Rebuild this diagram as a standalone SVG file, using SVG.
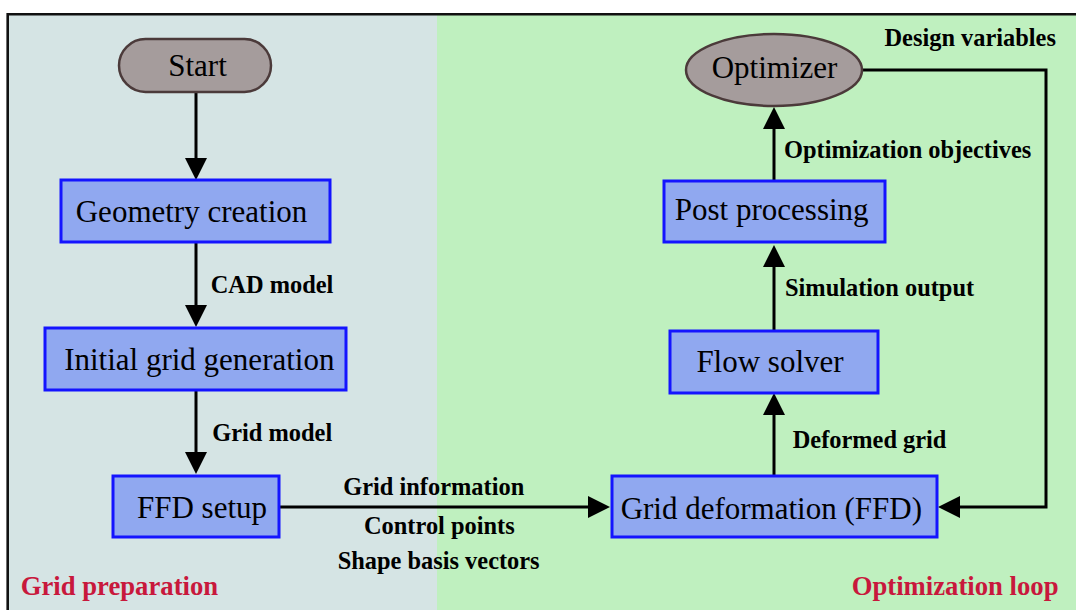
<svg xmlns="http://www.w3.org/2000/svg" width="1076" height="610" viewBox="0 0 1076 610">
  <style>
    .node rect.box { fill: #90a8f0; stroke: #1414ff; stroke-width: 3; }
    .term { fill: #a59c9c; stroke: #4b3a3a; stroke-width: 2.5; }
    .ntext { font-family: "Liberation Serif", "Times New Roman", serif; font-size: 31px; fill: #000; }
    .lbl { font-family: "Liberation Serif", "Times New Roman", serif; font-size: 24.4px; font-weight: bold; fill: #000; }
    .region { font-family: "Liberation Serif", "Times New Roman", serif; font-size: 26.7px; font-weight: bold; fill: #c8183c; }
    .conn { fill: none; stroke: #000; stroke-width: 3; }
  </style>
  <defs>
    <marker id="arrow" markerUnits="userSpaceOnUse" markerWidth="23" markerHeight="23" refX="0" refY="11" orient="auto" overflow="visible">
      <path d="M0,0 L22,11 L0,22 Z" fill="#000"/>
    </marker>
  </defs>

  <!-- page background -->
  <rect x="0" y="0" width="1076" height="610" fill="#ffffff"/>
  <!-- two working areas -->
  <rect x="8" y="14" width="429" height="596" fill="#d5e4e4"/>
  <rect x="437" y="14" width="639" height="596" fill="#bff0bf"/>
  <!-- frame -->
  <path d="M7.7,610 V14.2 H1076" fill="none" stroke="#111" stroke-width="2.6"/>

  <!-- area titles -->
  <text class="region" x="20.7" y="595">Grid preparation</text>
  <text class="region" x="851.7" y="595">Optimization loop</text>

  <!-- connectors -->
  <g id="connectors">
    <path class="conn" d="M196,92 V158" marker-end="url(#arrow)"/>
    <path class="conn" d="M196,242 V305" marker-end="url(#arrow)"/>
    <path class="conn" d="M196,390 V452" marker-end="url(#arrow)"/>
    <path class="conn" d="M279,507 H588" marker-end="url(#arrow)"/>
    <path class="conn" d="M774,476 V415" marker-end="url(#arrow)"/>
    <path class="conn" d="M774,331 V267" marker-end="url(#arrow)"/>
    <path class="conn" d="M774,181 V129" marker-end="url(#arrow)"/>
    <path class="conn" d="M862,70 H1046 V507 H960" marker-end="url(#arrow)"/>

    <text class="lbl" x="210.7" y="293">CAD model</text>
    <text class="lbl" x="212.3" y="441">Grid model</text>
    <text class="lbl" x="343.3" y="494.5">Grid information</text>
    <text class="lbl" x="364" y="533.5">Control points</text>
    <text class="lbl" x="337.7" y="568.5">Shape basis vectors</text>
    <text class="lbl" x="792.7" y="447.7">Deformed grid</text>
    <text class="lbl" x="785" y="296">Simulation output</text>
    <text class="lbl" x="784" y="158">Optimization objectives</text>
    <text class="lbl" x="884.5" y="46">Design variables</text>
  </g>

  <!-- nodes -->
  <g id="start" class="node">
    <rect class="term" x="119" y="39" width="152" height="53" rx="26.5" ry="26.5"/>
    <text class="ntext" x="197.5" y="75.7" text-anchor="middle">Start</text>
  </g>
  <g id="geometry" class="node">
    <rect class="box" x="61" y="180" width="269" height="62"/>
    <text class="ntext" x="191.5" y="222" text-anchor="middle">Geometry creation</text>
  </g>
  <g id="initial-grid" class="node">
    <rect class="box" x="45" y="328" width="301" height="62"/>
    <text class="ntext" x="199.3" y="370" text-anchor="middle">Initial grid generation</text>
  </g>
  <g id="ffd-setup" class="node">
    <rect class="box" x="113" y="476" width="166" height="61"/>
    <text class="ntext" x="202" y="517.7" text-anchor="middle">FFD setup</text>
  </g>
  <g id="grid-deformation" class="node">
    <rect class="box" x="612" y="476" width="325" height="61"/>
    <text class="ntext" x="771.3" y="519" text-anchor="middle">Grid deformation (FFD)</text>
  </g>
  <g id="flow-solver" class="node">
    <rect class="box" x="670" y="331" width="208" height="62"/>
    <text class="ntext" x="770" y="372.3" text-anchor="middle">Flow solver</text>
  </g>
  <g id="post-processing" class="node">
    <rect class="box" x="664" y="181" width="221" height="61"/>
    <text class="ntext" x="771.7" y="220" text-anchor="middle">Post processing</text>
  </g>
  <g id="optimizer" class="node">
    <ellipse class="term" cx="774" cy="70" rx="88" ry="36"/>
    <text class="ntext" x="774.5" y="78.3" text-anchor="middle">Optimizer</text>
  </g>
</svg>
